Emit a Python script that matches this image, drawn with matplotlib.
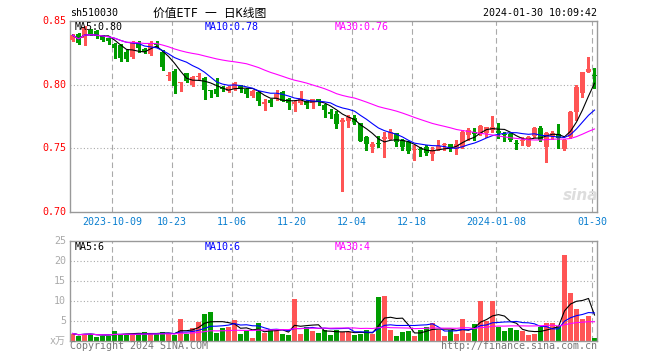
import numpy as np
import pandas as pd
import matplotlib
matplotlib.use("Agg")
import matplotlib.pyplot as plt

plt.rcParams['font.family'] = ['DejaVu Sans Mono', 'Noto Sans CJK SC']

# trading days shown (Sept 20 2023 .. Jan 30 2024, holidays removed)
holidays = ['2023-09-29', '2023-10-02', '2023-10-03', '2023-10-04',
            '2023-10-05', '2023-10-06', '2024-01-01']
dates = pd.bdate_range('2023-09-20', '2024-01-30')
dates = dates[~dates.isin(pd.to_datetime(holidays))]

tick_dates = ['2023-10-09', '2023-10-23', '2023-11-06', '2023-11-20',
              '2023-12-04', '2023-12-18', '2024-01-08', '2024-01-30']
tick_labels = ['2023-10-09', '10-23', '11-06', '11-20',
               '12-04', '12-18', '2024-01-08', '01-30']

opens = [0.835, 0.840, 0.8365, 0.843, 0.842, 0.838, 0.8365, 0.832, 0.831, 0.826,
         0.822, 0.833, 0.828, 0.824, 0.833, 0.826, 0.807, 0.811, 0.8015, 0.809,
         0.800, 0.806, 0.805, 0.7955, 0.7965, 0.798, 0.7953, 0.797, 0.799, 0.797,
         0.7913, 0.7945, 0.7852, 0.788, 0.789, 0.7945, 0.789, 0.7852, 0.7853, 0.7875,
         0.7853, 0.7885, 0.784, 0.7778, 0.777, 0.771, 0.7717, 0.7736, 0.7697, 0.7591,
         0.7512, 0.7535, 0.7573, 0.7573, 0.7618, 0.7565, 0.7552, 0.7485, 0.7488, 0.7513,
         0.7453, 0.7487, 0.7525, 0.7533, 0.7494, 0.7513, 0.7604, 0.7626, 0.7612, 0.7618,
         0.7644, 0.7638, 0.7606, 0.761, 0.7533, 0.7556, 0.752, 0.760, 0.7662, 0.7513,
         0.7599, 0.761, 0.7492, 0.7591, 0.7788, 0.7932, 0.8102, 0.8073]
highs = [0.840, 0.841, 0.846, 0.844, 0.843, 0.839, 0.837, 0.833, 0.832, 0.827,
         0.834, 0.834, 0.829, 0.834, 0.834, 0.827, 0.8102, 0.812, 0.802, 0.8095,
         0.807, 0.809, 0.806, 0.7958, 0.805, 0.799, 0.799, 0.8024, 0.7995, 0.7975,
         0.796, 0.795, 0.7888, 0.7885, 0.796, 0.795, 0.7895, 0.788, 0.7953, 0.788,
         0.789, 0.789, 0.7845, 0.7808, 0.779, 0.7736, 0.7762, 0.776, 0.770, 0.7595,
         0.7552, 0.7599, 0.763, 0.765, 0.762, 0.757, 0.7555, 0.7526, 0.7513, 0.7525,
         0.7513, 0.7565, 0.7541, 0.7535, 0.7565, 0.764, 0.7656, 0.7656, 0.7683, 0.767,
         0.7754, 0.7697, 0.7626, 0.762, 0.7565, 0.7591, 0.7595, 0.767, 0.7675, 0.7626,
         0.7635, 0.7689, 0.757, 0.779, 0.7998, 0.8102, 0.822, 0.8129]
lows = [0.834, 0.832, 0.831, 0.839, 0.837, 0.834, 0.832, 0.821, 0.819, 0.819,
        0.821, 0.826, 0.825, 0.823, 0.830, 0.8115, 0.8037, 0.7935, 0.7953, 0.8025,
        0.799, 0.8037, 0.789, 0.7905, 0.7913, 0.795, 0.794, 0.796, 0.7945, 0.7905,
        0.790, 0.784, 0.780, 0.7833, 0.788, 0.787, 0.7806, 0.7795, 0.785, 0.7817,
        0.7815, 0.784, 0.7744, 0.7735, 0.766, 0.7167, 0.767, 0.769, 0.7555, 0.7487,
        0.7473, 0.7512, 0.7434, 0.757, 0.752, 0.749, 0.746, 0.7407, 0.7442, 0.745,
        0.7408, 0.7485, 0.7487, 0.7475, 0.7453, 0.750, 0.7565, 0.7565, 0.7605, 0.759,
        0.7625, 0.7579, 0.7556, 0.7555, 0.7494, 0.7526, 0.7515, 0.759, 0.7555, 0.739,
        0.7575, 0.750, 0.7487, 0.7578, 0.7722, 0.7906, 0.8097, 0.7972]
closes = [0.839, 0.833, 0.845, 0.840, 0.838, 0.835, 0.834, 0.8286, 0.821, 0.820,
          0.833, 0.829, 0.8257, 0.833, 0.831, 0.8137, 0.8078, 0.799, 0.802, 0.803,
          0.806, 0.807, 0.796, 0.795, 0.7927, 0.7964, 0.7984, 0.8016, 0.797, 0.793,
          0.7953, 0.7874, 0.7856, 0.7855, 0.793, 0.7875, 0.7853, 0.7856, 0.7893, 0.784,
          0.7885, 0.7866, 0.780, 0.7773, 0.769, 0.7715, 0.7748, 0.771, 0.756, 0.7534,
          0.7533, 0.7532, 0.7591, 0.7626, 0.7552, 0.7508, 0.7481, 0.7488, 0.7485, 0.746,
          0.7487, 0.752, 0.7528, 0.7508, 0.7536, 0.7631, 0.7644, 0.7615, 0.7675, 0.767,
          0.767, 0.7623, 0.7604, 0.7563, 0.7531, 0.7558, 0.7591, 0.7657, 0.7565, 0.7618,
          0.7623, 0.7579, 0.7565, 0.7783, 0.7984, 0.8097, 0.8123, 0.807]
# volume, unit 万
volumes = [1.8, 1.2, 1.8, 1.8, 1.0, 1.3, 1.3, 2.4, 1.7, 1.7,
           1.7, 1.7, 2.2, 1.7, 1.7, 2.2, 1.8, 1.4, 5.4, 1.7,
           3.2, 4.7, 6.8, 7.2, 1.9, 3.2, 3.5, 5.2, 1.75, 2.4,
           0.7, 4.4, 1.9, 2.9, 2.7, 1.75, 1.5, 10.4, 1.7, 3.5,
           2.4, 1.9, 2.7, 1.4, 2.8, 2.25, 2.25, 1.4, 1.7, 2.7,
           1.8, 10.9, 11.2, 2.7, 1.2, 2.2, 2.4, 1.2, 2.7, 3.4,
           4.4, 2.8, 1.2, 2.8, 1.7, 5.4, 1.9, 4.2, 10.0, 4.9,
           10.0, 3.5, 2.4, 3.2, 2.7, 2.4, 1.4, 1.7, 3.4, 4.4,
           4.4, 3.7, 21.4, 11.9, 7.9, 5.4, 6.2, 0.7]

RED = '#ff5555'
GREEN = '#009c00'
FRAME = '#999999'
GRID = '#aaaaaa'

o = np.array(opens)
h = np.array(highs)
l = np.array(lows)
c = np.array(closes)
v = np.array(volumes)
x = np.arange(len(dates))
up = c >= o
colors = np.where(up, RED, GREEN)

cs = pd.Series(c)
vs = pd.Series(v)

W, H = 660, 360
fig = plt.figure(figsize=(6.6, 3.6), dpi=100)

def px(xp, yp):
    return xp / W, 1 - yp / H

ax = fig.add_axes([70 / W, 1 - 211.9 / H, 527 / W, 190.8 / H])
axv = fig.add_axes([70 / W, 1 - 340.7 / H, 527 / W, 100 / H])

tick_pos = [dates.get_loc(pd.Timestamp(d)) - 0.4 for d in tick_dates]

for a in (ax, axv):
    a.set_xlim(-0.4167, len(x) - 0.5833)
    a.set_xticks([])
    a.set_yticks([])
    for s in a.spines.values():
        s.set_color(FRAME)
        s.set_linewidth(1.0)
    for t in tick_pos:
        a.axvline(t, color=GRID, lw=0.8, ls=(0, (5, 3)), zorder=0)

# price panel
ax.set_ylim(0.70, 0.85)
for yv in (0.75, 0.80):
    ax.axhline(yv, color=GRID, lw=0.8, ls=(0, (1, 2)), zorder=0)

ax.vlines(x, l, h, colors=colors, lw=0.75, zorder=2, antialiased=False)
body = np.maximum(np.abs(c - o), 0.0009)
ax.bar(x, body, bottom=np.minimum(o, c), width=0.8, color=colors, zorder=3,
       antialiased=False)

ax.plot(x, cs.rolling(5, min_periods=1).mean(), color='black', lw=0.8, zorder=4)
ax.plot(x, cs.rolling(10, min_periods=1).mean(), color='#0000ff', lw=0.8, zorder=4)
ax.plot(x, cs.rolling(30, min_periods=1).mean(), color='#ff00ff', lw=0.8, zorder=4)

# volume panel
axv.set_ylim(0, 25)
for yv in (5, 10, 15, 20):
    axv.axhline(yv, color=GRID, lw=0.8, ls=(0, (1, 2)), zorder=0)
axv.bar(x, v, width=0.8, color=colors, zorder=2, antialiased=False)
axv.plot(x, vs.rolling(5, min_periods=1).mean(), color='black', lw=0.8, zorder=4)
axv.plot(x, vs.rolling(10, min_periods=1).mean(), color='#0000ff', lw=0.8, zorder=4)
axv.plot(x, vs.rolling(30, min_periods=1).mean(), color='#ff00ff', lw=0.8, zorder=4)

# texts
fs = 7.2
fig.text(*px(70, 13), 'sh510030', fontsize=fs, va='center', ha='left')
fig.text(*px(210, 13), '价值ETF 一 日K线图', fontsize=8.5, va='center', ha='center')
fig.text(*px(597, 13), '2024-01-30 10:09:42', fontsize=fs, va='center', ha='right')

fig.text(*px(75, 26.5), 'MA5:0.80', fontsize=fs, va='center', color='black')
fig.text(*px(205, 26.5), 'MA10:0.78', fontsize=fs, va='center', color='#0000ff')
fig.text(*px(335, 26.5), 'MA30:0.76', fontsize=fs, va='center', color='#ff00ff')

fig.text(*px(75, 247), 'MA5:6', fontsize=fs, va='center', color='black')
fig.text(*px(205, 247), 'MA10:6', fontsize=fs, va='center', color='#0000ff')
fig.text(*px(335, 247), 'MA30:4', fontsize=fs, va='center', color='#ff00ff')

price_ticks = [0.85, 0.80, 0.75, 0.70]
for p in price_ticks:
    yp = 211.9 - (p - 0.70) / 0.15 * 190.8
    fig.text(*px(66, yp), f'{p:.2f}', fontsize=fs, va='center', ha='right', color='#ff0000')

vol_ticks = [25, 20, 15, 10, 5]
for vt in vol_ticks:
    yp = 340.7 - vt * 4
    fig.text(*px(66, yp), str(vt), fontsize=fs, va='center', ha='right', color='#aaaaaa')
fig.text(*px(66, 340.7), 'x万', fontsize=fs, va='center', ha='right', color='#aaaaaa')

for t, lab in zip(tick_pos, tick_labels):
    xp = 70 + (t + 0.4167) * 6
    fig.text(*px(xp, 222), lab, fontsize=fs, va='center', ha='center', color='#0a7fd0')

fig.text(*px(70, 346), 'Copyright 2024 SINA.COM', fontsize=fs, va='center', ha='left', color='#777777')
fig.text(*px(597, 346), 'http://finance.sina.com.cn', fontsize=fs, va='center', ha='right', color='#777777')

# sina watermark
fig.text(*px(581, 196), 'sina', fontsize=11, va='center', ha='center', color='#dddddd',
         fontweight='bold', fontstyle='italic', family='DejaVu Sans')

fig.savefig('out.png', dpi=100)
